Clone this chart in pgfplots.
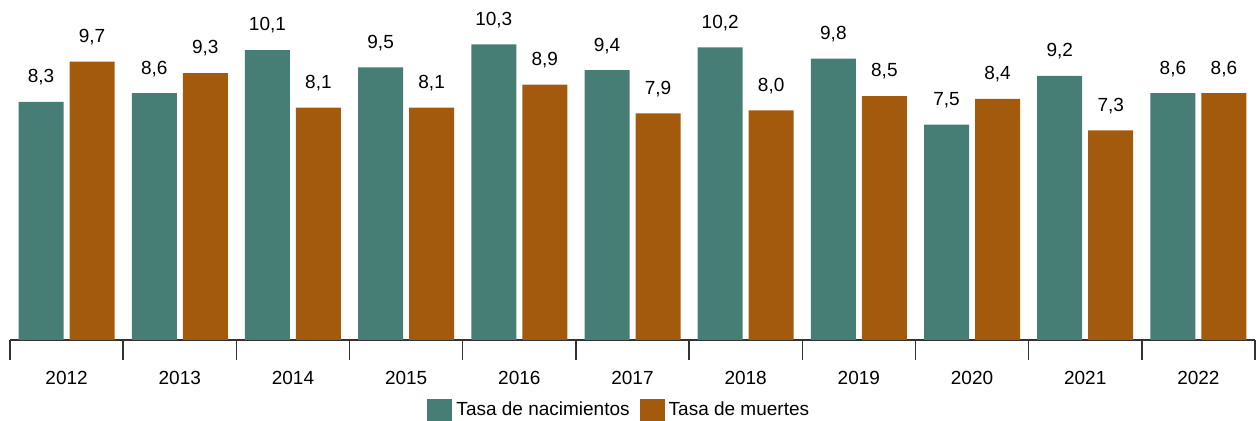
\documentclass[border=0pt]{standalone}
\usepackage{pgfplots}
\pgfplotsset{compat=1.18}
\usepackage{fontspec}
\setmainfont{Liberation Sans}
\definecolor{teal1}{RGB}{70,126,118}
\definecolor{brown1}{RGB}{163,90,12}
\definecolor{axisgray}{RGB}{50,50,50}
\begin{document}
\fontsize{9.5}{11}\selectfont
\begin{tikzpicture}
\begin{axis}[
  at={(0,0)}, anchor=south west,
  scale only axis, width=622.5pt, height=157.85pt,
  ymin=0, ymax=11, xmin=-0.5, xmax=10.5,
  ybar=3pt, bar width=22.5pt,
  axis x line*=bottom, axis y line=none,
  axis line style={axisgray, line width=0.75pt, -},
  xtick={0,...,10},
  xticklabels={2012,2013,2014,2015,2016,2017,2018,2019,2020,2021,2022},
  major x tick style={draw=none},
  minor xtick={-0.5,0.5,...,10.5},
  minor x tick style={axisgray, line width=0.75pt},
  minor tick length=10pt,
  tick align=outside,
  xticklabel style={font=\fontsize{9.5}{11}\selectfont, yshift=-8pt},
  /pgf/number format/assume math mode=true,
  nodes near coords,
  nodes near coords style={font=\fontsize{9.5}{11}\selectfont, yshift=5pt,
    /pgf/number format/.cd, fixed, fixed zerofill, precision=1, use comma},
  legend columns=2,
  legend style={draw=none, at={(0.335,-0.2217)}, anchor=west, inner sep=0pt,
    font=\fontsize{9.5}{11}\selectfont,
    /tikz/every even column/.append style={column sep=3pt}},
  legend image code/.code={\fill[#1] (0pt,-5.5pt) rectangle (12.5pt,5.5pt);},
]
\addplot[fill=teal1, draw=none] coordinates {(0,8.3) (1,8.6) (2,10.1) (3,9.5) (4,10.3) (5,9.4) (6,10.2) (7,9.8) (8,7.5) (9,9.2) (10,8.6)};
\addlegendentry{Tasa de nacimientos}
\addplot[fill=brown1, draw=none] coordinates {(0,9.7) (1,9.3) (2,8.1) (3,8.1) (4,8.9) (5,7.9) (6,8.0) (7,8.5) (8,8.4) (9,7.3) (10,8.6)};
\addlegendentry{Tasa de muertes}
\end{axis}
\pgfresetboundingbox
\useasboundingbox (-5pt,-40.5pt) rectangle (624.5pt,170pt);
\end{tikzpicture}
\end{document}
